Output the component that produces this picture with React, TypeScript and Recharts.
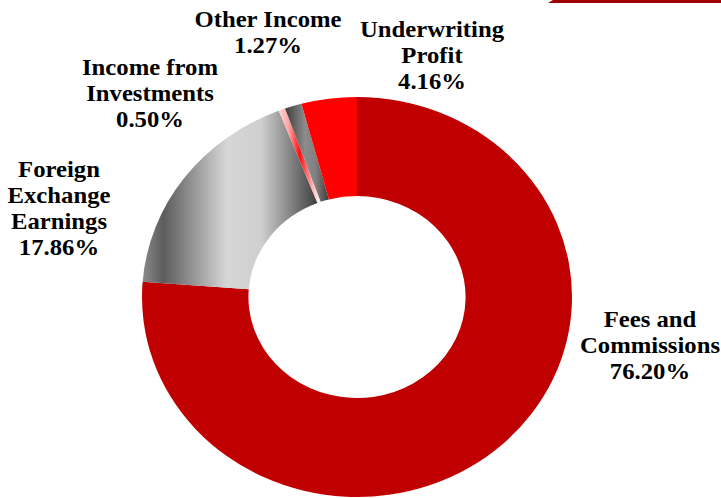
import React from 'react'
import { PieChart, Pie, Cell, Sector } from 'recharts'

const CATEGORIES = ['Fees and Commissions', 'Foreign Exchange Earnings', 'Income from Investments', 'Other Income', 'Underwriting Profit']
const SHARES = [76.2, 17.86, 0.5, 1.27, 4.16]
const FILLS = ['#C00000', 'url(#gFx)', 'url(#gInv)', 'url(#gOther)', '#FF0000']

// label text lines, placed by hand like on the slide
const LABELS = [
  { lines: ['Fees and', 'Commissions', '76.20%'], x: 650, y: 327 },
  { lines: ['Foreign', 'Exchange', 'Earnings', '17.86%'], x: 59, y: 177 },
  { lines: ['Income from', 'Investments', '0.50%'], x: 150, y: 75 },
  { lines: ['Other Income', '1.27%'], x: 268, y: 27 },
  { lines: ['Underwriting', 'Profit', '4.16%'], x: 432, y: 37 },
]

const data = CATEGORIES.map((name, i) => ({ name, value: SHARES[i] }))

const CX = 357
const CY = 297
// the slide is a bit wider than tall, text included
const STRETCH = 1.075

const oval = (props: any) => (
  <g transform={`translate(${props.cx} 0) scale(${STRETCH} 1) translate(${-props.cx} 0)`}>
    <Sector {...props} />
  </g>
)

export default function App() {
  return (
    <div style={{ position: 'absolute', left: 0, top: 0, width: 721, height: 498, background: '#fff' }}>
      <PieChart width={721} height={498} margin={{ top: 0, right: 0, bottom: 0, left: 0 }}>
        <defs>
          <linearGradient id="gFx" x1="0" y1="0" x2="1" y2="0">
            <stop offset="0" stopColor="#8a8a8a" />
            <stop offset="0.12" stopColor="#5c5c5c" />
            <stop offset="0.48" stopColor="#d6d6d6" />
            <stop offset="0.68" stopColor="#cfcfcf" />
            <stop offset="1" stopColor="#3e3e3e" />
          </linearGradient>
          <linearGradient id="gInv" x1="0" y1="0" x2="1" y2="0">
            <stop offset="0" stopColor="#ffd6d6" />
            <stop offset="0.25" stopColor="#ffa0a0" />
            <stop offset="0.5" stopColor="#ff1010" />
            <stop offset="0.8" stopColor="#ffb0b0" />
            <stop offset="1" stopColor="#ffffff" />
          </linearGradient>
          <linearGradient id="gOther" x1="0" y1="0" x2="1" y2="0">
            <stop offset="0" stopColor="#3c3c3c" />
            <stop offset="0.45" stopColor="#8c8c8c" />
            <stop offset="0.7" stopColor="#808080" />
            <stop offset="1" stopColor="#3c3c3c" />
          </linearGradient>
        </defs>
        <Pie
          data={data}
          dataKey="value"
          nameKey="name"
          cx={CX}
          cy={CY}
          innerRadius={101}
          outerRadius={200}
          startAngle={90}
          endAngle={-270}
          paddingAngle={0}
          stroke="none"
          isAnimationActive={false}
          shape={oval}
          inactiveShape={oval}
          activeShape={oval}
        >
          {data.map((_, i) => <Cell key={i} fill={FILLS[i]} stroke="none" />)}
        </Pie>
      </PieChart>
      <svg width={721} height={498} style={{ position: 'absolute', left: 0, top: 0, pointerEvents: 'none' }}>
        <path d="M548 3 L553 0 L721 0 L721 3 Z" fill="#a00000" />
        {LABELS.map((l, i) => (
          <g key={i} transform={`translate(${l.x} 0) scale(${STRETCH} 1)`}>
            <text
              x={0}
              y={l.y}
              textAnchor="middle"
              fontFamily="'Liberation Serif', 'Times New Roman', serif"
              fontWeight="bold"
              fontSize={23}
              fill="#000"
            >
              {l.lines.map((t, j) => (
                <tspan key={j} x={0} dy={j === 0 ? 0 : 26}>{t}</tspan>
              ))}
            </text>
          </g>
        ))}
      </svg>
    </div>
  )
}
